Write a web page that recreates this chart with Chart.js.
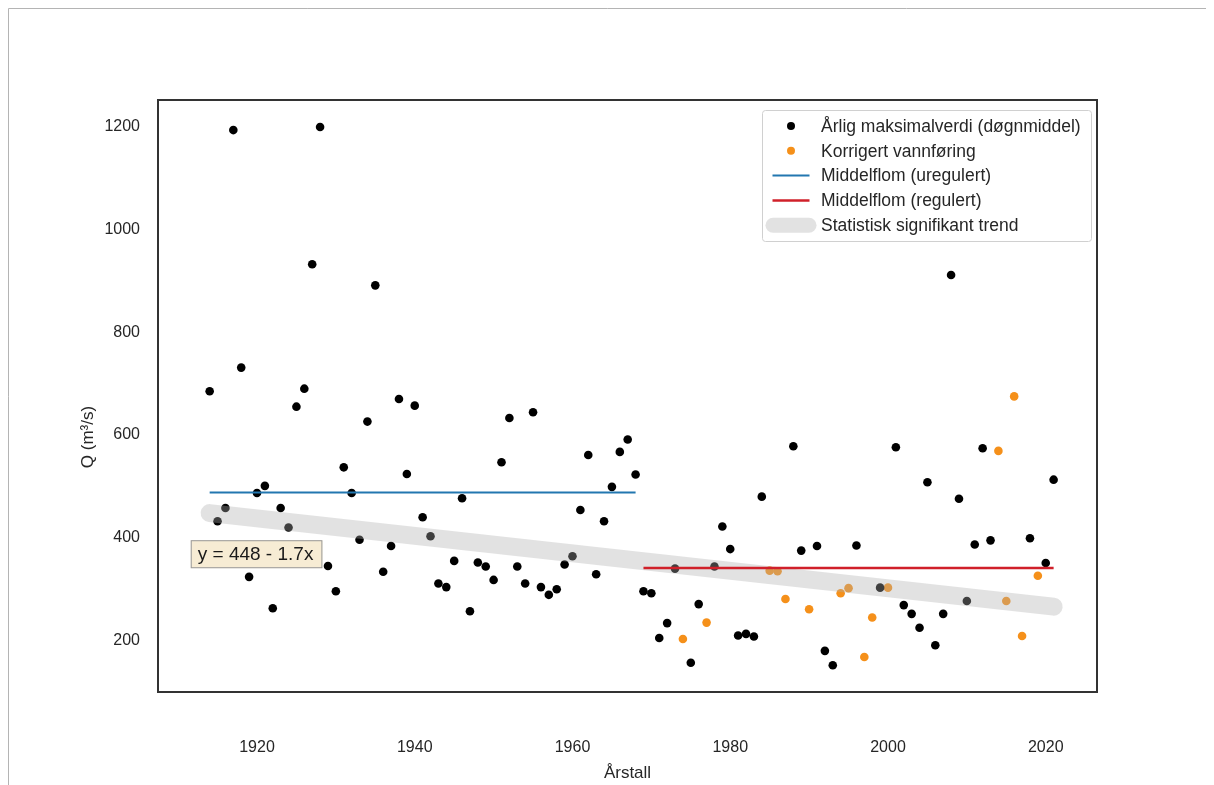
<!DOCTYPE html>
<html><head><meta charset="utf-8">
<script src="https://cdn.jsdelivr.net/npm/chart.js@4.4.0/dist/chart.umd.min.js"></script>
<style>html,body{margin:0;padding:0;background:#fff;}#wrap{width:1214px;height:785px;position:relative;}canvas{display:block;}</style>
</head><body><div id="wrap"><canvas id="c" width="1214" height="785"></canvas></div>
<script>
// ---- data ----
const annualYears = [1914,1915,1916,1917,1918,1919,1920,1921,1922,1923,1924,1925,1926,1927,1928,1929,1930,1931,1932,1933,1934,1935,1936,1937,1938,1939,1940,1941,1942,1943,1944,1945,1946,1947,1948,1949,1950,1951,1952,1953,1954,1955,1956,1957,1958,1959,1960,1961,1962,1963,1964,1965,1966,1967,1968,1969,1970,1971,1972,1973,1975,1976,1978,1979,1980,1981,1982,1983,1984,1988,1989,1991,1992,1993,1996,1999,2001,2002,2003,2004,2005,2006,2007,2008,2009,2010,2011,2012,2013,2018,2020,2021];
const annualMax = [685,432,458,1193,731,324,487,501,263,458,420,655,690,932,1199,345,296,537,487,396,626,891,334,384,670,524,657,440,403,311,304,355,477,257,352,344,318,547,633,344,311,644,304,289,300,348,364,454,561,329,432,499,567,591,523,296,292,205,234,340,157,271,344,422,378,210,213,208,480,578,375,384,180,152,385,303,576,269,252,225,508,191,252,911,476,277,387,574,395,399,351,513];
const correctedYears = [1974,1977,1985,1986,1987,1990,1994,1995,1997,1998,2000,2014,2015,2016,2017,2019];
const correctedValues = [203,235,336,335,281,261,292,302,168,245,303,569,277,675,209,326];
const meanUnregYears = [1914,1968];
const meanUnregValues = [488,488];
const meanRegYears = [1969,2021];
const meanRegValues = [341,341];
const trendYears = [1914,2021];
const trendValues = [448,266];
const trendLabel = 'y = 448 - 1.7x';
const xTicks = [1920,1940,1960,1980,2000,2020];
const yTicks = [200,400,600,800,1000,1200];
const labels = {
  annual: 'Årlig maksimalverdi (døgnmiddel)',
  corrected: 'Korrigert vannføring',
  unreg: 'Middelflom (uregulert)',
  reg: 'Middelflom (regulert)',
  trend: 'Statistisk signifikant trend',
  x: 'Årstall',
  y: 'Q (m³/s)'
};
// ---- styles ----
const FONT = "'Liberation Sans', Arial, sans-serif";
const TXT = '#262626';
const C_BLACK = '#000000', C_ORANGE = '#f5901a', C_BLUE = '#2277b0', C_RED = '#d0202a';
const C_BAND = 'rgba(175,175,175,0.36)';
const pairs = (xs, ys) => xs.map((x, i) => ({x: x, y: ys[i]}));

const datasets = [
  {label: labels.unreg, data: pairs(meanUnregYears, meanUnregValues), showLine: true, borderColor: C_BLUE, borderWidth: 2, pointRadius: 0, order: 0},
  {label: labels.reg, data: pairs(meanRegYears, meanRegValues), showLine: true, borderColor: C_RED, borderWidth: 2.5, pointRadius: 0, order: 0},
  {label: labels.trend, data: pairs(trendYears, trendValues), showLine: true, borderColor: C_BAND, borderWidth: 18, borderCapStyle: 'round', pointRadius: 0, order: 1},
  {label: labels.annual, data: pairs(annualYears, annualMax), backgroundColor: C_BLACK, borderWidth: 0, pointRadius: 4.3, order: 2},
  {label: labels.corrected, data: pairs(correctedYears, correctedValues), backgroundColor: C_ORANGE, borderWidth: 0, pointRadius: 4.3, order: 2}
];

const decor = {
  id: 'decor',
  beforeDraw(chart) {
    const ctx = chart.ctx;
    ctx.save();
    ctx.strokeStyle = '#b4b4b4';
    ctx.lineWidth = 1;
    ctx.beginPath();
    ctx.moveTo(8.5, 785); ctx.lineTo(8.5, 8.5); ctx.lineTo(1206, 8.5);
    ctx.stroke();
    ctx.restore();
  },
  afterDraw(chart) {
    const ctx = chart.ctx, a = chart.chartArea, xs = chart.scales.x, ys = chart.scales.y;
    ctx.save();
    // annotation box
    ctx.font = '19px ' + FONT;
    const tw = ctx.measureText(trendLabel).width;
    const bx = xs.getPixelForValue(1911.6), by = ys.getPixelForValue(368);
    const bw = tw + 16, bh = 28;
    ctx.fillStyle = 'rgba(247,236,212,1)';
    ctx.fillRect(bx, by - bh / 2, bw, bh);
    ctx.strokeStyle = '#999';
    ctx.lineWidth = 1;
    ctx.strokeRect(bx + 0.5, by - bh / 2 + 0.5, bw - 1, bh - 1);
    ctx.fillStyle = '#1a1a1a';
    ctx.textBaseline = 'middle';
    ctx.textAlign = 'left';
    ctx.fillText(trendLabel, bx + 7, by + 1);
    // axes frame
    ctx.strokeStyle = '#333';
    ctx.lineWidth = 2;
    ctx.strokeRect(a.left, a.top, a.right - a.left, a.bottom - a.top);
    // axis titles
    ctx.fillStyle = TXT;
    ctx.font = '17px ' + FONT;
    ctx.textAlign = 'center';
    ctx.fillText(labels.x, (a.left + a.right) / 2, 773);
    ctx.save();
    ctx.translate(88, (a.top + a.bottom) / 2 + 41);
    ctx.rotate(-Math.PI / 2);
    ctx.fillText(labels.y, 0, 0);
    ctx.restore();
    // legend
    const lx = a.right - 335, ly = a.top + 10, lw = 329, lh = 131;
    ctx.fillStyle = 'rgba(255,255,255,0.85)';
    ctx.strokeStyle = '#d0d0d0';
    ctx.lineWidth = 1;
    ctx.beginPath();
    ctx.roundRect(lx + 0.5, ly + 0.5, lw, lh, 3);
    ctx.fill(); ctx.stroke();
    const items = [datasets[3], datasets[4], datasets[0], datasets[1], datasets[2]];
    const hx = lx + 29;
    ctx.font = '17.5px ' + FONT;
    ctx.textAlign = 'left';
    items.forEach((d, i) => {
      const ry = ly + 16 + i * 24.8;
      if (d.showLine) {
        ctx.beginPath();
        ctx.strokeStyle = d.borderColor;
        ctx.lineWidth = d === datasets[2] ? 15 : d.borderWidth;
        ctx.lineCap = d === datasets[2] ? 'round' : 'butt';
        const half = d === datasets[2] ? 18 : 18.5;
        ctx.moveTo(hx - half, ry); ctx.lineTo(hx + half, ry);
        ctx.stroke();
      } else {
        ctx.beginPath();
        ctx.fillStyle = d.backgroundColor;
        ctx.arc(hx, ry, 4, 0, Math.PI * 2);
        ctx.fill();
      }
      ctx.fillStyle = TXT;
      ctx.fillText(d.label, lx + 59, ry + 1);
    });
    ctx.restore();
  }
};

new Chart(document.getElementById('c'), {
  type: 'scatter',
  data: {datasets: datasets},
  options: {
    responsive: false, animation: false, devicePixelRatio: 1,
    layout: {padding: {top: 100, right: 117, left: 0, bottom: 0}},
    plugins: {legend: {display: false}, tooltip: {enabled: false}},
    scales: {
      x: {
        type: 'linear', min: 1907.45, max: 2026.5,
        afterBuildTicks: s => { s.ticks = xTicks.map(v => ({value: v})); },
        afterFit: s => { s.height = 93; },
        grid: {display: false, drawTicks: false}, border: {display: false},
        ticks: {padding: 46, color: TXT, font: {family: FONT, size: 16}, callback: v => String(v), maxRotation: 0}
      },
      y: {
        type: 'linear', min: 100, max: 1251.5,
        afterBuildTicks: s => { s.ticks = yTicks.map(v => ({value: v})); },
        afterFit: s => { s.width = 158; },
        grid: {display: false, drawTicks: false}, border: {display: false},
        ticks: {padding: 18, color: TXT, font: {family: FONT, size: 16}, callback: v => String(v)}
      }
    }
  },
  plugins: [decor]
});
</script></body></html>
